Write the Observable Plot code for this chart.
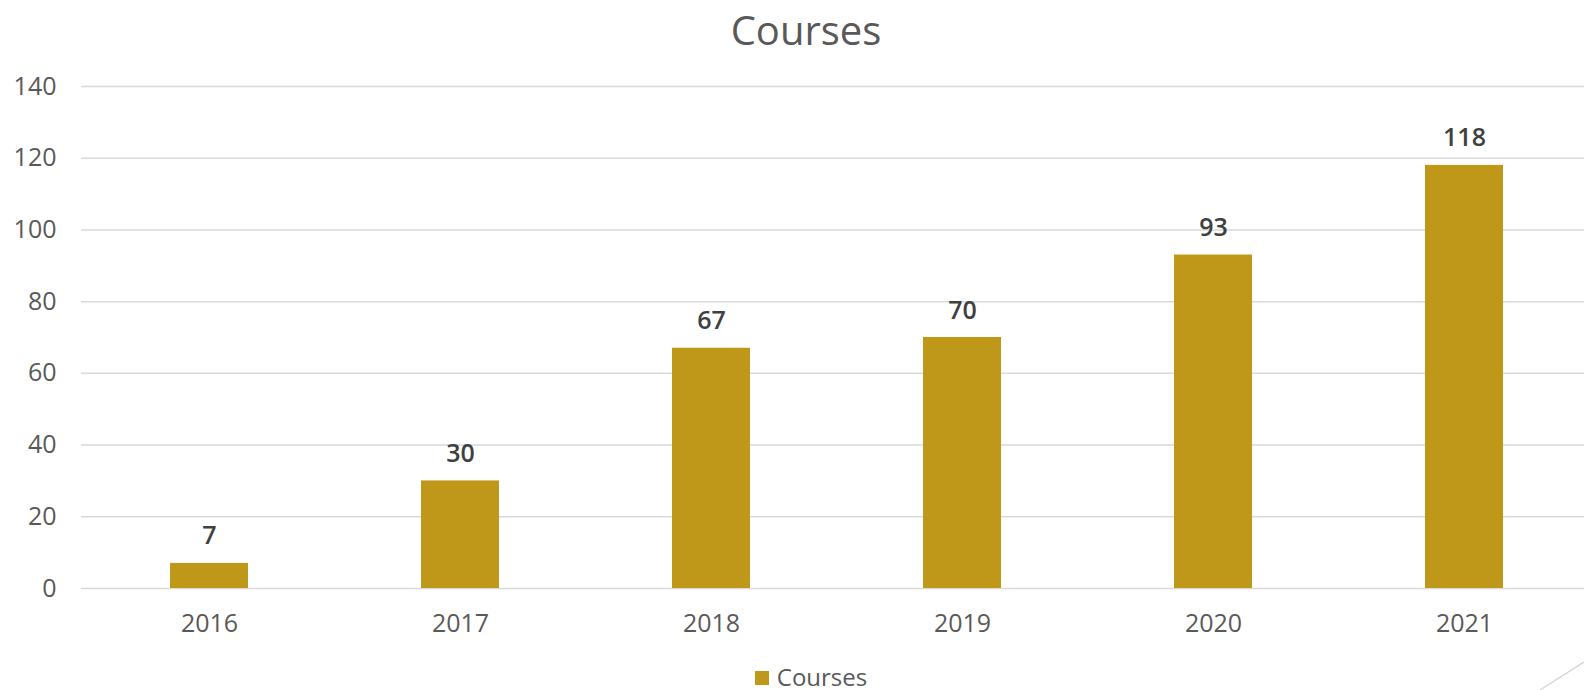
<!DOCTYPE html>
<html>
<head>
<meta charset="utf-8">
<script src="https://cdn.jsdelivr.net/npm/d3@7"></script>
<script src="https://cdn.jsdelivr.net/npm/@observablehq/plot@0.6"></script>
<style>
  html, body { margin: 0; padding: 0; background: #fff; overflow: hidden; width: 1584px; height: 690px; }
  body { font-family: "Open Sans", "Noto Sans", sans-serif; position: relative; }
  #title { height: 60px; line-height: 60px; text-align: center; padding-left: 28px; font-size: 40px; color: #595959; }
  #legend { height: 24px; line-height: 24px; text-align: center; padding-left: 38px; font-size: 24px; color: #595959; }
  #legend .sw { display: inline-block; width: 14px; height: 14px; background: #BF9819; margin-right: 8px; vertical-align: middle; position: relative; top: -2px; }
  #deco { position: absolute; right: 0; bottom: 0; }
</style>
</head>
<body>
<div id="title">Courses</div>
<div id="chart"></div>
<div id="legend"><span class="sw"></span>Courses</div>
<svg id="deco" width="50" height="32"><line x1="50" y1="4" x2="6" y2="32" stroke="#d0d0d0" stroke-width="1.2"/></svg>
<script>
const years = ["2016", "2017", "2018", "2019", "2020", "2021"];
const courses = [7, 30, 67, 70, 93, 118];
const yTicks = [0, 20, 40, 60, 80, 100, 120, 140];

const data = years.map((y, i) => ({year: y, value: courses[i]}));

const chart = Plot.plot({
  width: 1584,
  height: 605,
  marginLeft: 81,
  marginRight: 0,
  marginTop: 26,
  marginBottom: 77,
  style: {fontFamily: "'Open Sans', 'Noto Sans', sans-serif", fontSize: "25px", color: "#595959", background: "#fff"},
  x: {domain: years, range: [81, 1592], paddingInner: 0.69, paddingOuter: 0.345},
  y: {domain: [0, 140], range: [528, 26]},
  marks: [
    Plot.gridY(yTicks, {stroke: "#d9d9d9", strokeOpacity: 1, strokeWidth: 1.5}),
    Plot.barY(data, {x: "year", y: "value", fill: "#BF9819"}),
    Plot.axisY(yTicks, {tickSize: 0, tickPadding: 25, fontSize: 25, fill: "#595959", label: null}),
    Plot.axisX({tickSize: 0, tickPadding: 26, fontSize: 25, fill: "#595959", label: null}),
    Plot.text(data, {x: "year", y: "value", text: d => String(d.value), dy: -27, lineAnchor: "middle", fontSize: 25, fontWeight: 600, fill: "#404040"})
  ]
});
document.getElementById("chart").appendChild(chart);
</script>
</body>
</html>
